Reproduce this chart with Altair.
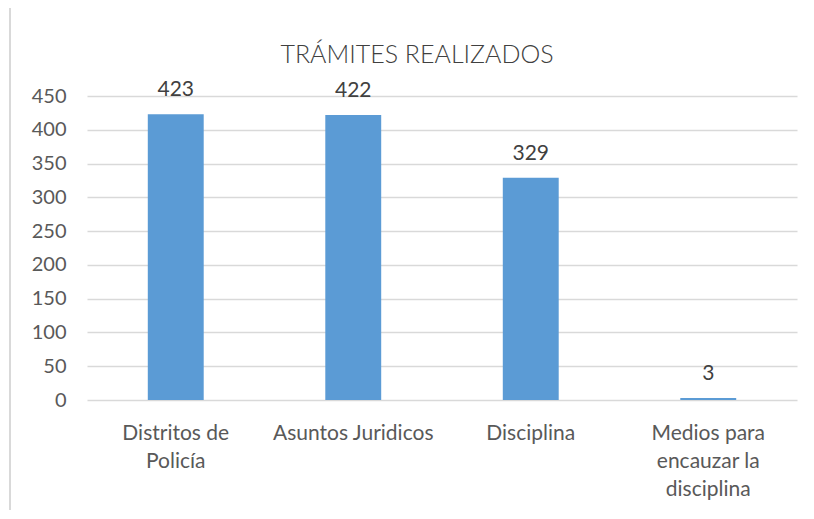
import altair as alt
import pandas as pd

categories = ["Distritos de\nPolicía", "Asuntos Juridicos", "Disciplina", "Medios para\nencauzar la\ndisciplina"]
values = [423, 422, 329, 3]
y_ticks = [0, 50, 100, 150, 200, 250, 300, 350, 400, 450]
title_text = "TRÁMITES REALIZADOS"

df = pd.DataFrame({"cat": categories, "val": values})

FONT = "Lato"
GRAY = "#595959"

x = alt.X("cat:N", sort=categories, title=None,
          scale=alt.Scale(paddingInner=0.685, paddingOuter=0.3425),
          axis=alt.Axis(labelAngle=0, labelExpr="split(datum.label, '\\n')",
                        labelFontSize=21, labelFont=FONT, labelColor=GRAY,
                        labelLineHeight=28, labelPadding=22, domain=False,
                        ticks=False, labelLimit=300, labelOverlap=False))
y = alt.Y("val:Q", title=None,
          scale=alt.Scale(domain=[0, 450], nice=False),
          axis=alt.Axis(values=y_ticks, labelFontSize=20, labelFont=FONT,
                        labelColor=GRAY, labelPadding=21, domain=False,
                        ticks=False, gridColor="#d9d9d9", gridWidth=1.3,
                        labelOverlap=False))

bars = alt.Chart(df).mark_bar(color="#5B9BD5").encode(x=x, y=y)
labels = alt.Chart(df).mark_text(font=FONT, fontSize=21, color="#404040",
                                  baseline="alphabetic", dy=-18).encode(
    x=x, y=y, text="val:Q")
frame = alt.Chart(df).mark_rule(color="#d9d9d9", strokeWidth=2).encode(
    x=alt.value(-77), y=alt.value(-90), y2=alt.value(420))
title = alt.Chart(pd.DataFrame({"t": [title_text]})).mark_text(
    font=FONT, fontSize=25, fontWeight=300, color="#404040",
    baseline="alphabetic", align="center"
).encode(x=alt.value(330), y=alt.value(-33), text="t:N")

chart = alt.layer(frame, bars, labels, title).properties(
    width=710, height=304,
    autosize=alt.AutoSizeParams(type="none"),
    padding={"left": 79, "top": 88, "right": 9, "bottom": 110},
).configure_view(stroke=None)

chart.save("out.html", embed_options={"renderer": "svg", "actions": False})
